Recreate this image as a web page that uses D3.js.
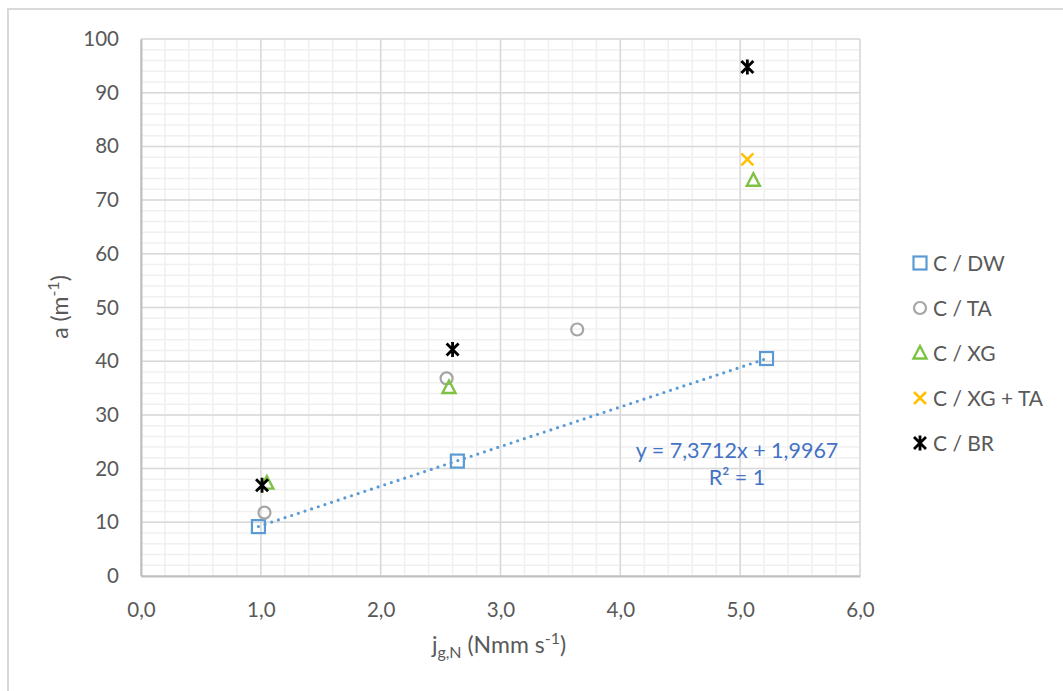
<!DOCTYPE html>
<html>
<head>
<meta charset="utf-8">
<script src="https://cdn.jsdelivr.net/npm/d3@7"></script>
<style>
  html, body { margin: 0; padding: 0; background: #fff; }
  svg { display: block; }
  text { font-family: Lato, "Open Sans", sans-serif; }
</style>
</head>
<body>
<svg id="chart" width="1063" height="691"></svg>
<script>
// ---- data ----
const seriesNames = ["C / DW", "C / TA", "C / XG", "C / XG + TA", "C / BR"];
const dwX = [0.98, 2.64, 5.22];
const dwY = [9.2, 21.4, 40.5];
const taX = [1.03, 2.55, 3.64];
const taY = [11.8, 36.8, 45.9];
const xgX = [1.05, 2.57, 5.11];
const xgY = [17.3, 35.1, 73.7];
const xgtaX = [5.06];
const xgtaY = [77.6];
const brX = [1.01, 2.60, 5.06];
const brY = [16.9, 42.2, 94.8];
const xTicks = [0, 1, 2, 3, 4, 5, 6];
const yTicks = [0, 10, 20, 30, 40, 50, 60, 70, 80, 90, 100];
const trendSlope = 7.3712;
const trendIntercept = 1.9967;
const trendLabel = "y = 7,3712x + 1,9967";
const r2Label = "R² = 1";

// ---- layout ----
const svg = d3.select("#chart");
const L = 141, R = 860, T = 39, B = 576;
const x = d3.scaleLinear().domain([0, 6]).range([L, R]);
const y = d3.scaleLinear().domain([0, 100]).range([B, T]);
const txtCol = "#595959";

// outer border
svg.append("rect").attr("x", 8).attr("y", 9).attr("width", 1100).attr("height", 720)
  .attr("fill", "none").attr("stroke", "#d9d9d9").attr("stroke-width", 2);

// minor grid
const g = svg.append("g");
g.selectAll(".vminor").data(d3.range(0, 6.001, 0.2)).join("line")
  .attr("x1", d => x(d)).attr("x2", d => x(d)).attr("y1", T).attr("y2", B)
  .attr("stroke", "#f0f0f0").attr("stroke-width", 1.5);
g.selectAll(".hminor").data(d3.range(0, 100.001, 2)).join("line")
  .attr("y1", d => y(d)).attr("y2", d => y(d)).attr("x1", L).attr("x2", R)
  .attr("stroke", "#f0f0f0").attr("stroke-width", 1.5);
// major grid
g.selectAll(".vmajor").data(xTicks).join("line")
  .attr("x1", d => x(d)).attr("x2", d => x(d)).attr("y1", T).attr("y2", B)
  .attr("stroke", "#d9d9d9").attr("stroke-width", 1.5);
g.selectAll(".hmajor").data(yTicks).join("line")
  .attr("y1", d => y(d)).attr("y2", d => y(d)).attr("x1", L).attr("x2", R)
  .attr("stroke", "#d9d9d9").attr("stroke-width", 1.5);

// axes
const xAxis = d3.axisBottom(x).tickValues(xTicks).tickSize(0).tickPadding(26)
  .tickFormat(d => d3.format(".1f")(d).replace(".", ","));
const yAxis = d3.axisLeft(y).tickValues(yTicks).tickSize(0).tickPadding(22)
  .tickFormat(d => d);
const xa = svg.append("g").attr("transform", `translate(0,${B})`).call(xAxis);
const ya = svg.append("g").attr("transform", `translate(${L},0)`).call(yAxis);
[xa, ya].forEach(a => {
  a.select(".domain").attr("stroke", "#bfbfbf").attr("stroke-width", 2);
  a.selectAll("text").attr("fill", txtCol).attr("font-size", 20.5)
    .attr("font-family", "Lato, 'Open Sans', sans-serif");
});

// axis titles
const xt = svg.append("text").attr("x", 499).attr("y", 653).attr("text-anchor", "middle")
  .attr("fill", txtCol).attr("font-size", 23);
xt.append("tspan").text("j");
xt.append("tspan").attr("font-size", 16).attr("dy", 5).text("g,N");
xt.append("tspan").attr("dy", -5).text(" (Nmm s");
xt.append("tspan").attr("font-size", 16).attr("dy", -9).text("-1");
xt.append("tspan").attr("dy", 9).text(")");

const yt = svg.append("text").attr("transform", "translate(68,307) rotate(-90)")
  .attr("text-anchor", "middle").attr("fill", txtCol).attr("font-size", 23);
yt.append("tspan").text("a (m");
yt.append("tspan").attr("font-size", 16).attr("dy", -9).text("-1");
yt.append("tspan").attr("dy", 9).text(")");

// trendline
const tx0 = d3.min(dwX), tx1 = d3.max(dwX);
svg.append("line")
  .attr("x1", x(tx0)).attr("y1", y(trendSlope * tx0 + trendIntercept))
  .attr("x2", x(tx1)).attr("y2", y(trendSlope * tx1 + trendIntercept))
  .attr("stroke", "#5B9BD5").attr("stroke-width", 3.2)
  .attr("stroke-linecap", "round").attr("stroke-dasharray", "0 7");

// markers
const colors = ["#5B9BD5", "#A5A5A5", "#7DC243", "#FFC000", "#000000"];
function drawMarker(sel, type, cx, cy, color) {
  const m = sel.append("g").attr("transform", `translate(${cx},${cy})`);
  if (type === 0) {
    m.append("rect").attr("x", -6.5).attr("y", -6.5).attr("width", 13).attr("height", 13)
      .attr("fill", "none").attr("stroke", color).attr("stroke-width", 2.2);
  } else if (type === 1) {
    m.append("circle").attr("r", 6).attr("fill", "none").attr("stroke", color).attr("stroke-width", 2.2);
  } else if (type === 2) {
    m.append("path").attr("d", "M0,-7 L6.5,5.5 L-6.5,5.5 Z")
      .attr("fill", "none").attr("stroke", color).attr("stroke-width", 2.4);
  } else if (type === 3) {
    m.append("path").attr("d", "M-6,-6 L6,6 M-6,6 L6,-6")
      .attr("stroke", color).attr("stroke-width", 2.5);
  } else {
    m.append("path").attr("d", "M-6,-6 L6,6 M-6,6 L6,-6 M0,-7.5 L0,7.5")
      .attr("stroke", color).attr("stroke-width", 2.8);
  }
}
const allSeries = [[dwX, dwY], [taX, taY], [xgX, xgY], [xgtaX, xgtaY], [brX, brY]];
const mg = svg.append("g");
allSeries.forEach(([xs, ys], i) => {
  xs.forEach((xv, j) => drawMarker(mg, i, x(xv), y(ys[j]), colors[i]));
});

// trendline label
svg.append("text").attr("x", 737).attr("y", 458).attr("text-anchor", "middle")
  .attr("fill", "#4472C4").attr("font-size", 21.5).text(trendLabel);
svg.append("text").attr("x", 737).attr("y", 485).attr("text-anchor", "middle")
  .attr("fill", "#4472C4").attr("font-size", 21.5).text(r2Label);

// legend
const lg = svg.append("g");
seriesNames.forEach((name, i) => {
  const ly = 263 + i * 45;
  drawMarker(lg, i, 920, ly, colors[i]);
  lg.append("text").attr("x", 933).attr("y", ly + 7.5).attr("fill", txtCol)
    .attr("font-size", 21).text(name);
});
</script>
</body>
</html>
